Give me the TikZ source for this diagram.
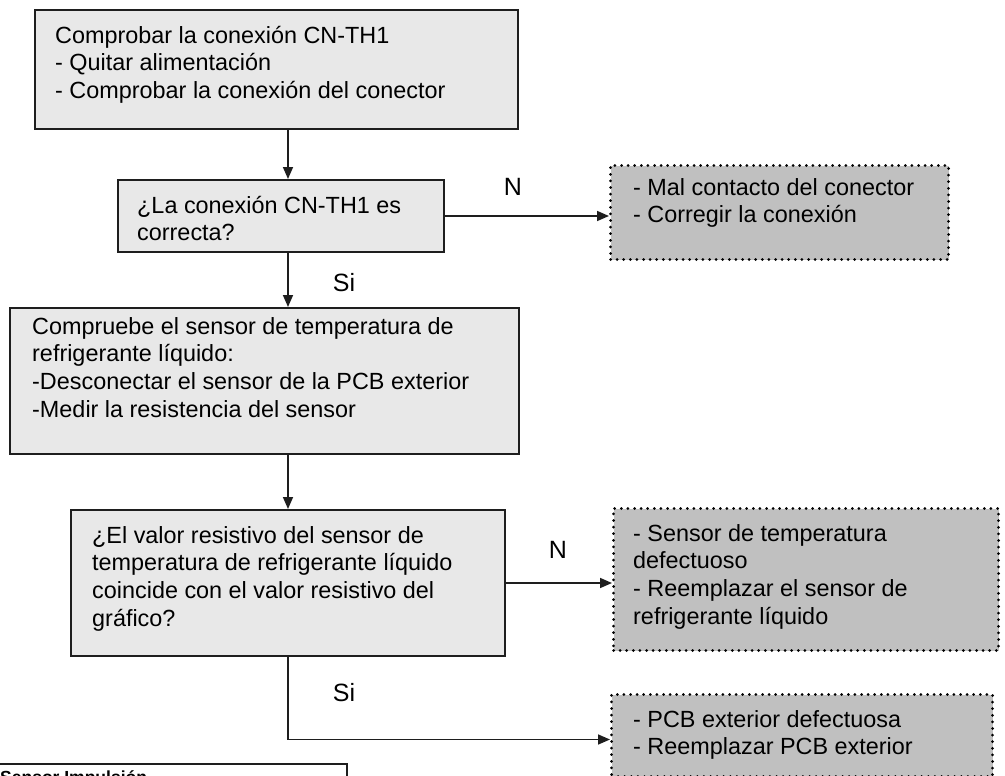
\documentclass[tikz,border=0pt]{standalone}
\usepackage{fontspec}
\setmainfont{Liberation Sans}
\usetikzlibrary{arrows.meta,calc}

\definecolor{boxfill}{HTML}{E8E8E8}
\definecolor{notefill}{HTML}{C0C0C0}
\definecolor{edge}{HTML}{1E1E1E}

\tikzset{
  stepbox/.style={draw=edge, fill=boxfill, line width=2pt, rectangle, inner sep=0pt, anchor=north west},
  notebox/.style={draw=black, fill=notefill, line width=3pt, line cap=round,
                  dash pattern=on 0pt off 6.6pt, rectangle, inner sep=0pt, anchor=north west},
  plainbox/.style={draw=edge, fill=white, line width=1.6pt, rectangle, inner sep=0pt, anchor=north west},
  txt/.style={anchor=north west, inner sep=0pt, align=left,
              font=\fontsize{23.4}{27.7}\selectfont},
  lbl/.style={inner sep=0pt, font=\fontsize{25}{28}\selectfont},
  arr/.style={draw=edge, line width=1.6pt, -{Triangle[length=12pt,width=10pt]}},
}

\begin{document}
\begin{tikzpicture}[x=1pt,y=-1pt]
\useasboundingbox (0,0) rectangle (1005,776);
\clip (0,0) rectangle (1005,776);

% column of the main vertical flow
\coordinate (col) at (288,0);

% process and decision boxes
\node[stepbox, minimum width=483pt, minimum height=119pt] (b1) at (34,9) {};
\node[stepbox, minimum width=326pt, minimum height=72pt]  (b2) at (117,179) {};
\node[stepbox, minimum width=509pt, minimum height=146pt] (b3) at (9,307) {};
\node[stepbox, minimum width=434pt, minimum height=146pt] (b4) at (70,509) {};

% result boxes (dotted)
\node[notebox, minimum width=338pt, minimum height=94pt]  (d1) at (609,164) {};
\node[notebox, minimum width=385pt, minimum height=142pt] (d2) at (612,507) {};
\node[notebox, minimum width=381pt, minimum height=82pt]  (d3) at (610,693) {};

% box at the lower left edge
\node[plainbox, minimum width=360pt, minimum height=60pt] (b5) at (-14,763) {};

% texts (first baseline = top + 19.39)
\node[txt] (t1) at ($(b1.north west)+(21,14.6)$)
  {\strut Comprobar la conexión CN-TH1\\- Quitar alimentación\\- Comprobar la conexión del conector};
\node[txt] (t2) at ($(b2.north west)+(20,14.6)$)
  {\strut ¿La conexión CN-TH1 es\\correcta?};
\node[txt] (t3) at ($(b3.north west)+(23,7.6)$)
  {\strut Compruebe el sensor de temperatura de\\refrigerante líquido:\\-Desconectar el sensor de la PCB exterior\\-Medir la resistencia del sensor};
\node[txt] (t4) at ($(b4.north west)+(22,14.6)$)
  {\strut ¿El valor resistivo del sensor de\\temperatura de refrigerante líquido\\coincide con el valor resistivo del\\gráfico?};
\node[txt] (t5) at ($(d1.north west)+(24,11.6)$)
  {\strut - Mal contacto del conector\\- Corregir la conexión};
\node[txt] (t6) at ($(d2.north west)+(21,14.6)$)
  {\strut - Sensor de temperatura\\defectuoso\\- Reemplazar el sensor de\\refrigerante líquido};
\node[txt] (t7) at ($(d3.north west)+(23,14.6)$)
  {\strut - PCB exterior defectuosa\\- Reemplazar PCB exterior};
\node[anchor=base west, inner sep=0pt, font=\bfseries\fontsize{17.5}{20}\selectfont]
  (t8) at (0,783) {Sensor Impulsión};

% connectors
\draw[arr] (b1.south -| col) -- (b2.north -| col);
\draw[arr] (b2.east) -- (b2.east -| d1.west);
\draw[arr] (b2.south -| col) -- (b3.north -| col);
\draw[arr] (b3.south -| col) -- (b4.north -| col);
\draw[arr] (b4.east) -- (b4.east -| d2.west);
\draw[arr] (b4.south -| col) |- ([yshift=-4pt]d3.west);

% branch labels
\node[lbl] (n1) at (513,187) {N};
\node[lbl] (s1) at (344,283) {Si};
\node[lbl] (n2) at (558,550) {N};
\node[lbl] (s2) at (344,693) {Si};
\end{tikzpicture}
\end{document}
